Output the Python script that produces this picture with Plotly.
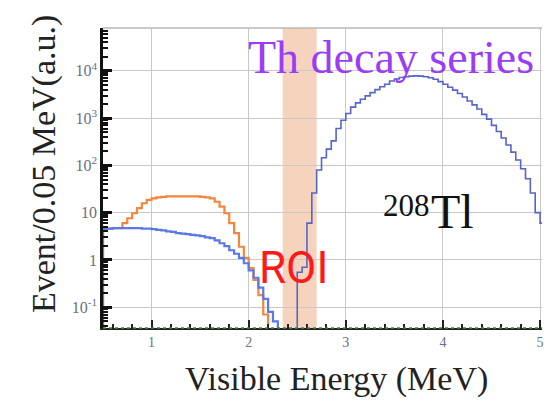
import numpy as np
import plotly.graph_objects as go

# Histogram binning (MeV)
BIN_W = 0.05
FLOOR = 1e-4  # below the visible range, closes each histogram to the axis

# Low-energy component (blue), bins starting at 0.50 MeV
low_blue_start = 0.50
low_blue_vals = [4.6, 4.6, 4.7, 4.7, 4.7, 4.7, 4.7, 4.7, 4.6, 4.6,
                 4.5, 4.3, 4.2, 4.0, 3.9, 3.7, 3.6, 3.5, 3.4, 3.3,
                 3.2, 3.0, 2.9, 2.6, 2.25, 1.95, 1.6, 1.35, 1.1, 0.85,
                 0.6, 0.42, 0.26, 0.15, 0.08, 0.05]

# Orange component, bins starting at 0.50 MeV
orange_start = 0.50
orange_vals = [4.6, 4.6, 4.7, 4.7, 6.0, 7.6, 9.7, 12.4, 15.8, 18.6,
               20.0, 21.0, 21.5, 22.0, 22.0, 22.0, 22.0, 22.0, 22.0, 22.0,
               21.5, 21.0, 20.0, 17.0, 13.4, 9.7, 6.0, 3.7, 1.9, 1.1,
               0.67, 0.38, 0.18, 0.07]

# 208Tl spectrum, bins starting at 2.50 MeV
tl_start = 2.50
tl_vals = [0.55, 0.7, 6, 26, 80, 145, 220, 330, 600, 900,
           1250, 1700, 2100, 2500, 2950, 3450, 4000, 4600, 5200, 6100,
           6700, 7200, 7500, 7700, 7800, 7700, 7500, 7100, 6600, 5900,
           5200, 4500, 3900, 3300, 2800, 2300, 1900, 1550, 1200, 950,
           700, 520, 380, 270, 190, 130, 85, 52, 26, 10,
           6]

roi_range = [2.35, 2.70]

y_decades = [-1, 0, 1, 2, 3, 4]
y_ticktext = ["10<sup>-1</sup>", "1", "10", "10<sup>2</sup>", "10<sup>3</sup>", "10<sup>4</sup>"]
x_ticks = [1, 2, 3, 4, 5]


def step_xy(start, vals):
    """Points for an 'hv' step line that rises from and drops back to the floor."""
    n = len(vals)
    edges = start + BIN_W * np.arange(n + 1)
    x = np.concatenate([[edges[0]], edges[:-1], [edges[-1]], [edges[-1]]])
    y = np.concatenate([[FLOOR], vals, [vals[-1]], [FLOOR]])
    return x, y


fig = go.Figure()

xo, yo = step_xy(orange_start, orange_vals)
fig.add_trace(go.Scatter(x=xo, y=yo, mode="lines", line_shape="hv",
                         line=dict(color="#f2863c", width=2.2), showlegend=False))

xb, yb = step_xy(low_blue_start, low_blue_vals)
fig.add_trace(go.Scatter(x=xb, y=yb, mode="lines", line_shape="hv",
                         line=dict(color="#5a78e6", width=2.2), showlegend=False))

xt, yt = step_xy(tl_start, tl_vals)
fig.add_trace(go.Scatter(x=xt, y=yt, mode="lines", line_shape="hv",
                         line=dict(color="#5865c8", width=1.6), showlegend=False))

# ROI band
fig.add_shape(type="rect", xref="x", yref="paper", x0=roi_range[0], x1=roi_range[1],
              y0=0, y1=1, fillcolor="#f6d3bd", line_width=0, layer="below")
# top frame line
fig.add_shape(type="line", xref="paper", yref="paper", x0=0, x1=1, y0=1, y1=1,
              line=dict(color="#b8b8b8", width=1.5))
# green baseline along the bottom axis
fig.add_shape(type="line", xref="paper", yref="paper", x0=0, x1=1, y0=0, y1=0,
              line=dict(color="#3f8a3f", width=1.5, dash="dot"), layer="above")

minor_y = [m * 10.0 ** d for d in range(-2, 5) for m in range(2, 10)]

fig.update_xaxes(range=[0.5, 5.02], tickvals=x_ticks, ticktext=[str(v) for v in x_ticks],
                 ticks="inside", ticklen=8, tickwidth=2, tickcolor="#222",
                 showline=True, linecolor="#222", linewidth=2,
                 showgrid=True, gridcolor="#c9c9c9", gridwidth=1, zeroline=False,
                 ticklabeloverflow="allow",
                 tickfont=dict(family="Liberation Serif", size=14, color="#6a7080"),
                 minor=dict(dtick=0.2, ticks="inside", ticklen=4, tickwidth=1.5,
                            tickcolor="#222", showgrid=False))
fig.update_yaxes(type="log", range=[-1.44, 4.905],
                 tickvals=[10.0 ** d for d in y_decades], ticktext=y_ticktext,
                 ticks="inside", ticklen=9, tickwidth=2.5, tickcolor="#111",
                 showline=True, linecolor="#111", linewidth=2.5,
                 showgrid=True, gridcolor="#c9c9c9", gridwidth=1, zeroline=False,
                 tickfont=dict(family="Liberation Serif", size=16, color="#6a7080"),
                 minor=dict(tickvals=minor_y, ticks="inside", ticklen=5, tickwidth=1.5,
                            tickcolor="#111", showgrid=False))

serif = "Liberation Serif, Times New Roman, serif"
fig.add_annotation(text="Th decay series", xref="paper", yref="paper", x=0.655, y=0.903,
                   xanchor="center", yanchor="middle", showarrow=False,
                   font=dict(family=serif, size=46, color="#9a3df5"))
fig.add_annotation(text="ROI", xref="paper", yref="paper", x=0.435, y=0.20,
                   xanchor="center", yanchor="middle", showarrow=False,
                   font=dict(family="Liberation Sans Narrow, Roboto, sans-serif", size=44, color="#ff1a1a"))
fig.add_annotation(text="208", xref="paper", yref="paper", x=0.692, y=0.41,
                   xanchor="center", yanchor="middle", showarrow=False,
                   font=dict(family=serif, size=31, color="#111"))
fig.add_annotation(text="Tl", xref="paper", yref="paper", x=0.796, y=0.39,
                   xanchor="center", yanchor="middle", showarrow=False,
                   font=dict(family=serif, size=48, color="#111"))
fig.add_annotation(text="Event/0.05 MeV(a.u.)", xref="paper", yref="paper", x=-0.134, y=0.547,
                   xanchor="center", yanchor="middle", textangle=-90, showarrow=False,
                   font=dict(family=serif, size=34, color="#222"))
fig.add_annotation(text="Visible Energy (MeV)", xref="paper", yref="paper", x=0.531, y=-0.17,
                   xanchor="center", yanchor="middle", showarrow=False,
                   font=dict(family=serif, size=34, color="#222"))

fig.update_layout(width=544, height=401, margin=dict(l=103, r=0, t=28, b=73),
                  paper_bgcolor="white", plot_bgcolor="white")

fig.write_html("out.html")
